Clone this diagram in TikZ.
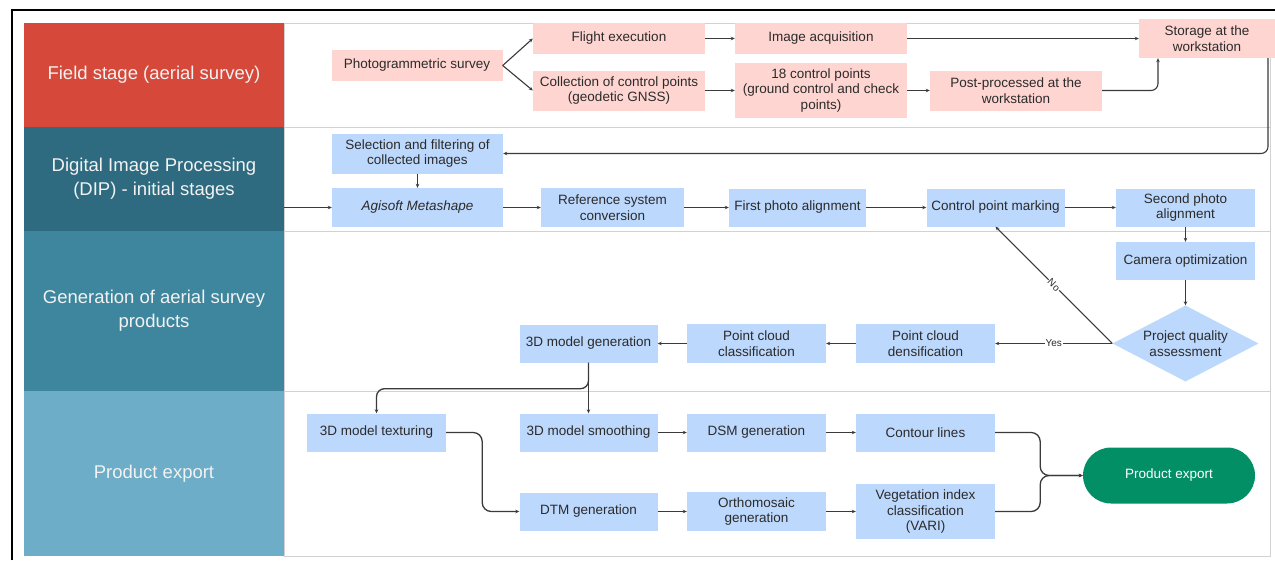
\documentclass[tikz,border=0pt]{standalone}
\usepackage{fontspec}
\setmainfont{Liberation Sans}
\usetikzlibrary{arrows.meta,shapes.geometric,calc}
\definecolor{laneA}{HTML}{D5483A}
\definecolor{laneB}{HTML}{2E6B80}
\definecolor{laneC}{HTML}{3E869D}
\definecolor{laneD}{HTML}{6DADC7}
\definecolor{pinkfill}{HTML}{FFD5D1}
\definecolor{bluefill}{HTML}{BCD8FC}
\definecolor{greenfill}{HTML}{038F66}
\definecolor{txt}{HTML}{2B2B2B}
\definecolor{lanetxt}{HTML}{F2F2F2}
\definecolor{sep}{HTML}{D2D2D2}
\definecolor{arrowc}{HTML}{3A3A3A}
\tikzset{
  lane/.style={rectangle, inner sep=0, minimum width=260pt, align=center, text=lanetxt, font=\fontsize{18.5}{24}\selectfont},
  procbox/.style={rectangle, inner sep=0, align=center, text=txt, font=\fontsize{13.5}{15.5}\selectfont},
  pinkbox/.style={procbox, fill=pinkfill},
  bluebox/.style={procbox, fill=bluefill},
  arr/.style={draw=arrowc, line width=1.1pt, -{Stealth[length=4pt,width=3.5pt]}},
  lbl/.style={fill=white, inner sep=1pt, text=txt, font=\fontsize{10}{12}\selectfont},
}
\begin{document}
\begin{tikzpicture}[x=1pt, y=-1pt]
\useasboundingbox (0,0) rectangle (1275,560);
% outer frame
\draw[black, line width=1.6pt] (12,560) -- (12,10) -- (1275,10);
% content area
\fill[white] (284,23) rectangle (1270,556);
\draw[sep, line width=1pt] (284,23) rectangle (1270,556);
\draw[sep, line width=1pt] (284,127) -- (1270,127);
\draw[sep, line width=1pt] (284,231) -- (1270,231);
\draw[sep, line width=1pt] (284,391) -- (1270,391);
% lanes
\node[lane, fill=laneA, minimum height=104pt] (L1) at (154,75) {Field stage (aerial survey)};
\node[lane, fill=laneB, minimum height=104pt] (L2) at (154,179) {Digital Image Processing\\(DIP) - initial stages};
\node[lane, fill=laneC, minimum height=160pt] (L3) at (154,311) {Generation of aerial survey\\products};
\node[lane, fill=laneD, minimum height=165pt] (L4) at (154,473.5) {Product export};
% field stage
\node[pinkbox, minimum width=171pt, minimum height=31pt] (ps) at (417,65.5) {Photogrammetric survey};
\node[pinkbox, minimum width=172pt, minimum height=31pt] (fe) at (619,38.5) {Flight execution};
\node[pinkbox, minimum width=172pt, minimum height=40pt] (cc) at (619,90.5) {Collection of control points\\(geodetic GNSS)};
\node[pinkbox, minimum width=172pt, minimum height=31pt] (ia) at (821,38.5) {Image acquisition};
\node[pinkbox, minimum width=172pt, minimum height=55pt] (cp) at (821,90.5) {18 control points\\(ground control and check\\points)};
\node[pinkbox, minimum width=172pt, minimum height=40pt] (pp) at (1016,90.5) {Post-processed at the\\workstation};
\node[pinkbox, minimum width=136pt, minimum height=39pt] (st) at (1207,38.5) {Storage at the\\workstation};
% DIP
\node[bluebox, minimum width=171pt, minimum height=40pt] (sel) at (417.5,153.5) {Selection and filtering of\\collected images};
\node[bluebox, minimum width=171pt, minimum height=39pt] (ag) at (417.5,207.5) {\itshape Agisoft Metashape};
\node[bluebox, minimum width=143pt, minimum height=39pt] (rs) at (612.5,207.5) {Reference system\\conversion};
\node[bluebox, minimum width=137pt, minimum height=38pt] (fpa) at (797.5,207.5) {First photo alignment};
\node[bluebox, minimum width=138pt, minimum height=38pt] (cpm) at (995.5,207.5) {Control point marking};
\node[bluebox, minimum width=139pt, minimum height=38pt] (spa) at (1185.5,207.5) {Second photo\\alignment};
% generation
\node[bluebox, minimum width=139pt, minimum height=38pt] (cam) at (1185.5,261) {Camera optimization};
\node[procbox, diamond, fill=bluefill, inner sep=-4pt, shape aspect=1.92, minimum width=146pt, minimum height=76pt] (pqa) at (1185.5,343.5) {Project quality\\assessment};
\node[bluebox, minimum width=139pt, minimum height=39pt] (pcd) at (925.5,343.5) {Point cloud\\densification};
\node[bluebox, minimum width=139pt, minimum height=39pt] (pcc) at (756.5,343.5) {Point cloud\\classification};
\node[bluebox, minimum width=138pt, minimum height=38pt] (mg) at (588.5,343.5) {3D model generation};
% export
\node[bluebox, minimum width=139pt, minimum height=38pt] (tex) at (376.5,432.5) {3D model texturing};
\node[bluebox, minimum width=138pt, minimum height=38pt] (smo) at (588.5,432.5) {3D model smoothing};
\node[bluebox, minimum width=139pt, minimum height=38pt] (dsm) at (756.5,432.5) {DSM generation};
\node[bluebox, minimum width=139pt, minimum height=38pt] (con) at (925.5,432.5) {Contour lines};
\node[bluebox, minimum width=138pt, minimum height=38pt] (dtm) at (588.5,511.5) {DTM generation};
\node[bluebox, minimum width=139pt, minimum height=39pt] (ort) at (756.5,511.5) {Orthomosaic\\generation};
\node[bluebox, minimum width=139pt, minimum height=55pt] (veg) at (925.5,511.5) {Vegetation index\\classification\\(VARI)};
\node[procbox, fill=greenfill, text=white, rounded corners=28pt, minimum width=172pt, minimum height=56pt] (pe) at (1169,475.5) {Product export};
% connectors: field stage
\draw[arr] (ps.east) -- (fe.west);
\draw[arr] (ps.east) -- (cc.west);
\draw[arr] (fe) -- (ia);
\draw[arr] (ia.east) -- (st.west);
\draw[arr] (cc) -- (cp);
\draw[arr] (cp) -- (pp);
\draw[arr, rounded corners=7pt] (pp.east) -| ([xshift=-49pt]st.south);
\draw[arr, rounded corners=7pt] ([xshift=61pt]st.south) |- (sel.east);
% DIP
\draw[arr] (sel) -- (ag);
\draw[arr] (L2.east |- ag.west) -- (ag.west);
\draw[arr] (ag) -- (rs);
\draw[arr] (rs) -- (fpa);
\draw[arr] (fpa) -- (cpm);
\draw[arr] (cpm) -- (spa);
\draw[arr] (spa) -- (cam);
\draw[arr] (cam.south) -- (pqa.north);
\draw[arr] (pqa.west) -- node[lbl] {Yes} (pcd.east);
\draw[arr] (pqa.west) -- node[lbl, sloped] {No} (cpm.south);
\draw[arr, line width=1.5pt] (pcd) -- (pcc);
\draw[arr, line width=1.5pt] (pcc) -- (mg);
% export
\draw[arr, line width=1.3pt] (mg) -- (smo);
\draw[arr, line width=1.3pt, rounded corners=8pt] (mg.south) -- ++(0,26) -| (tex.north);
\draw[arr, line width=1.3pt, rounded corners=9pt] (tex.east) -- ++(36,0) |- (dtm.west);
\draw[arr, line width=1.3pt] (smo) -- (dsm);
\draw[arr, line width=1.3pt] (dsm) -- (con);
\draw[arr, line width=1.3pt] (dtm) -- (ort);
\draw[arr, line width=1.3pt] (ort) -- (veg);
\draw[arr, line width=1.3pt, rounded corners=9pt] (con.east) -- ++(45,0) |- (pe.west);
\draw[arr, line width=1.3pt, rounded corners=9pt] (veg.east) -- ++(45,0) |- (pe.west);
\end{tikzpicture}
\end{document}
